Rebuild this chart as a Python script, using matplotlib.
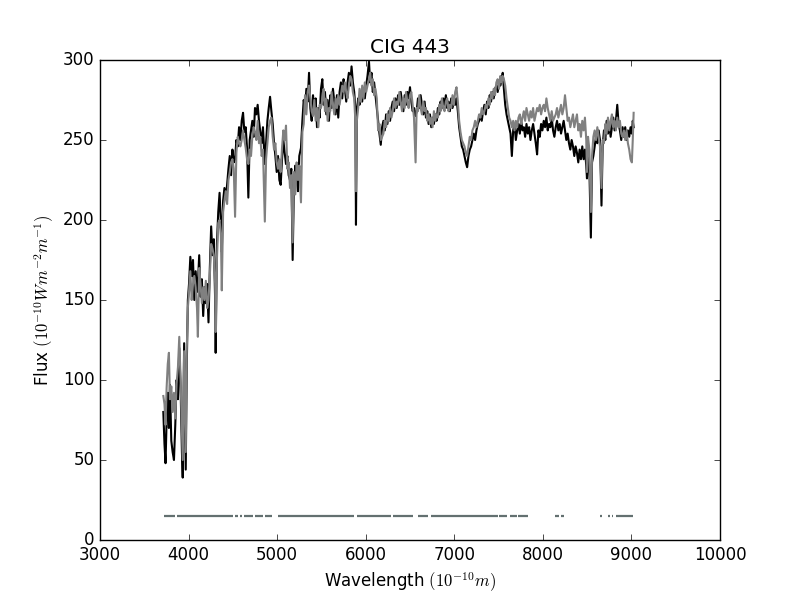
import matplotlib
matplotlib.use("Agg")
import matplotlib.pyplot as plt
import numpy as np


# wavelength grid (Angstrom)
wave = [
	3715, 3728, 3740, 3752, 3765, 3778, 3790, 3805, 3820, 3835,
	3850, 3865, 3880, 3895, 3910, 3925, 3934, 3950, 3968, 3980,
	3992, 4005, 4020, 4035, 4050, 4065, 4080, 4095, 4105, 4120,
	4135, 4150, 4165, 4180, 4195, 4210, 4225, 4240, 4255, 4270,
	4285, 4300, 4306, 4320, 4335, 4350, 4365, 4375, 4390, 4405,
	4420, 4435, 4450, 4465, 4480, 4495, 4510, 4525, 4540, 4555,
	4570, 4585, 4600, 4615, 4630, 4645, 4660, 4675, 4690, 4705,
	4720, 4735, 4750, 4765, 4780, 4795, 4810, 4825, 4840, 4861,
	4875, 4890, 4905, 4920, 4935, 4950, 4965, 4980, 4995, 5010,
	5025, 5040, 5055, 5070, 5085, 5100, 5115, 5130, 5145, 5160,
	5175, 5190, 5205, 5220, 5235, 5250, 5269, 5285, 5300, 5315,
	5330, 5345, 5360, 5375, 5390, 5405, 5420, 5435, 5450, 5465,
	5480, 5495, 5510, 5525, 5540, 5555, 5570, 5585, 5600, 5615,
	5630, 5645, 5660, 5675, 5690, 5705, 5720, 5735, 5750, 5765,
	5780, 5795, 5810, 5825, 5840, 5855, 5870, 5883, 5890, 5900,
	5915, 5930, 5945, 5960, 5975, 5990, 6005, 6020, 6037, 6050,
	6065, 6080, 6095, 6110, 6125, 6140, 6155, 6170, 6185, 6200,
	6215, 6230, 6245, 6260, 6275, 6290, 6305, 6320, 6335, 6350,
	6365, 6380, 6395, 6410, 6425, 6440, 6455, 6470, 6485, 6500,
	6515, 6530, 6545, 6563, 6575, 6590, 6605, 6620, 6635, 6650,
	6665, 6680, 6695, 6710, 6725, 6740, 6755, 6770, 6785, 6800,
	6815, 6830, 6845, 6860, 6875, 6890, 6905, 6920, 6935, 6950,
	6965, 6980, 6995, 7010, 7025, 7040, 7055, 7070, 7085, 7100,
	7115, 7130, 7145, 7160, 7175, 7190, 7205, 7220, 7235, 7250,
	7265, 7280, 7295, 7310, 7325, 7340, 7355, 7370, 7385, 7400,
	7415, 7430, 7445, 7460, 7475, 7490, 7505, 7520, 7535, 7547,
	7560, 7575, 7590, 7605, 7620, 7635, 7650, 7665, 7680, 7695,
	7710, 7725, 7740, 7755, 7770, 7785, 7800, 7815, 7830, 7845,
	7860, 7875, 7890, 7905, 7920, 7935, 7950, 7965, 7980, 7995,
	8010, 8025, 8040, 8055, 8070, 8085, 8100, 8115, 8130, 8145,
	8160, 8175, 8190, 8205, 8220, 8235, 8250, 8265, 8280, 8295,
	8310, 8325, 8340, 8355, 8370, 8385, 8400, 8415, 8430, 8445,
	8460, 8475, 8490, 8498, 8510, 8525, 8542, 8555, 8570, 8585,
	8600, 8615, 8630, 8645, 8662, 8675, 8690, 8705, 8720, 8735,
	8750, 8765, 8780, 8795, 8810, 8825, 8840, 8855, 8870, 8885,
	8900, 8915, 8930, 8945, 8960, 8975, 8990, 9005, 9015, 9025,
]

# observed spectrum (black)
flux_obs = [
	80, 60, 48, 75, 92, 70, 97, 62, 55, 50,
	72, 100, 88, 120, 95, 55, 39, 123, 44, 110,
	150, 160, 177, 165, 175, 150, 168, 155, 160, 178,
	152, 163, 140, 158, 148, 160, 136, 170, 196, 178,
	188, 150, 117, 185, 205, 217, 198, 180, 212, 220,
	214, 222, 232, 240, 228, 244, 236, 238, 250, 246,
	258, 250, 262, 267, 255, 258, 245, 214, 250, 256,
	262, 252, 270, 266, 272, 262, 255, 248, 258, 235,
	248, 262, 270, 277, 268, 260, 248, 240, 230, 240,
	225, 222, 238, 250, 242, 235, 240, 228, 225, 232,
	175, 222, 234, 228, 218, 240, 245, 262, 275, 270,
	282, 274, 292, 270, 262, 278, 268, 276, 258, 270,
	264, 282, 288, 272, 280, 266, 275, 262, 278, 270,
	282, 274, 266, 278, 264, 280, 286, 276, 288, 282,
	274, 286, 292, 284, 296, 286, 280, 270, 197, 268,
	276, 272, 280, 274, 282, 276, 284, 290, 299, 286,
	292, 280, 286, 278, 270, 262, 254, 247, 258, 262,
	256, 266, 260, 268, 262, 270, 274, 268, 276, 270,
	278, 272, 280, 274, 268, 278, 272, 280, 276, 283,
	274, 268, 270, 265, 268, 276, 270, 278, 272, 266,
	274, 264, 268, 260, 266, 258, 264, 260, 266, 262,
	270, 266, 274, 270, 276, 272, 278, 270, 274, 268,
	276, 270, 274, 272, 276, 268, 258, 252, 246, 244,
	240, 236, 233, 240, 244, 246, 250, 254, 250, 256,
	260, 262, 266, 262, 268, 272, 266, 274, 270, 278,
	274, 280, 276, 282, 284, 280, 286, 284, 288, 292,
	282, 272, 266, 262, 258, 254, 240, 256, 260, 250,
	256, 260, 254, 262, 256, 258, 252, 260, 254, 258,
	250, 256, 260, 254, 248, 241, 256, 252, 260, 256,
	262, 258, 264, 256, 260, 258, 264, 256, 252, 258,
	262, 256, 260, 254, 258, 262, 256, 250, 254, 248,
	244, 250, 246, 240, 246, 242, 236, 244, 238, 246,
	238, 244, 234, 226, 240, 233, 189, 236, 240, 246,
	252, 248, 256, 250, 209, 246, 256, 250, 262, 254,
	260, 252, 258, 264, 256, 262, 272, 260, 256, 250,
	258, 252, 258, 250, 256, 252, 258, 254, 262, 258,
]

# model / fit (gray)
flux_fit = [
	90, 85, 72, 95, 110, 117, 88, 96, 80, 92,
	76, 98, 108, 127, 100, 70, 50, 118, 55, 120,
	145, 155, 168, 150, 160, 165, 158, 145, 127, 170,
	160, 148, 158, 150, 162, 145, 150, 165, 185, 182,
	178, 160, 130, 175, 198, 200, 190, 156, 205, 212,
	218, 210, 225, 230, 236, 238, 232, 202, 242, 252,
	248, 246, 250, 256, 250, 245, 238, 235, 244, 240,
	252, 258, 255, 250, 262, 248, 252, 240, 244, 199,
	238, 248, 258, 262, 264, 252, 244, 248, 236, 232,
	238, 230, 245, 256, 250, 259, 232, 236, 220, 228,
	186, 230, 216, 236, 225, 234, 211, 255, 260, 278,
	266, 280, 284, 276, 268, 265, 275, 262, 270, 258,
	272, 270, 275, 282, 268, 276, 262, 270, 268, 280,
	272, 266, 276, 270, 278, 272, 278, 284, 280, 286,
	280, 276, 284, 290, 288, 280, 276, 262, 218, 262,
	270, 282, 274, 284, 276, 286, 280, 284, 288, 292,
	284, 288, 278, 282, 276, 256, 260, 250, 252, 254,
	262, 258, 266, 262, 270, 264, 268, 276, 270, 274,
	272, 280, 274, 268, 276, 270, 280, 274, 270, 278,
	280, 272, 264, 236, 270, 268, 278, 270, 266, 274,
	268, 270, 262, 266, 260, 264, 258, 268, 262, 266,
	264, 272, 268, 276, 270, 268, 274, 276, 268, 272,
	270, 278, 272, 280, 283, 274, 262, 255, 250, 248,
	246, 242, 240, 246, 252, 250, 256, 258, 262, 258,
	262, 266, 264, 270, 266, 268, 272, 270, 276, 272,
	280, 276, 282, 278, 286, 288, 282, 290, 286, 290,
	288, 284, 276, 270, 264, 262, 258, 262, 256, 262,
	258, 264, 266, 260, 264, 268, 262, 270, 266, 262,
	268, 264, 270, 262, 266, 270, 268, 272, 266, 270,
	272, 268, 276, 270, 266, 262, 268, 262, 264, 266,
	270, 264, 268, 272, 266, 270, 278, 270, 262, 264,
	258, 262, 266, 258, 262, 266, 256, 260, 252, 262,
	256, 264, 250, 230, 252, 244, 205, 240, 252, 256,
	250, 258, 252, 246, 220, 250, 248, 260, 254, 264,
	256, 262, 266, 258, 262, 256, 264, 258, 262, 254,
	252, 256, 250, 256, 248, 244, 238, 236, 250, 267,
]

# good-pixel mask segments (drawn at a fixed flux level)
mask_start = [3723, 3866, 4524, 4581, 4630, 4750, 4863, 5013, 5905, 6312,
			  6590, 6737, 7508, 7629, 7723, 8137, 8205, 8645, 8739, 8776, 8822]
mask_end = [3847, 4505, 4555, 4603, 4731, 4844, 4938, 5868, 6281, 6529,
			6699, 7497, 7591, 7704, 7827, 8185, 8234, 8663, 8758, 8795, 9013]
mask_level = 15


plt.style.use("classic")
fig, ax = plt.subplots(figsize=(8, 6), dpi=100)
fig.patch.set_facecolor("white")

ax.plot(wave, flux_obs, color="black", lw=1.5)
ax.plot(wave, flux_fit, color="0.5", lw=1.5)
ax.hlines([mask_level] * len(mask_start), mask_start, mask_end, color="#637070", lw=1.6)

ax.set_xlim(3000, 10000)
ax.set_ylim(0, 300)
ax.set_title("CIG 443")
ax.set_xlabel(r"Wavelength $(10^{-10}m)$")
ax.set_ylabel(r"Flux $(10^{-10}Wm^{-2}m^{-1})$")

fig.savefig("out.png", dpi=100, facecolor="white")
